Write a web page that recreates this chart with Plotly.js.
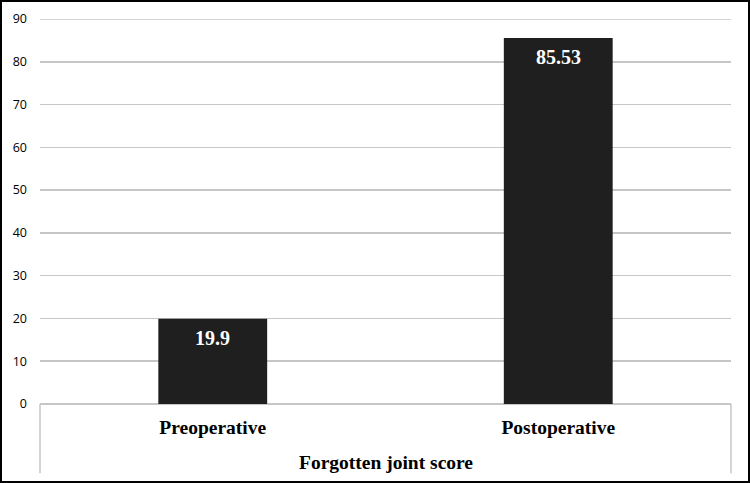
<!DOCTYPE html>
<html>
<head>
<meta charset="utf-8">
<script src="https://cdn.plot.ly/plotly-3.0.1.min.js"></script>
<style>
  html, body { margin: 0; padding: 0; background: #ffffff; }
  #wrap { position: relative; width: 750px; height: 483px; }
  #chart { width: 750px; height: 483px; }
  #frame {
    position: absolute; left: 0; top: 0; width: 750px; height: 483px;
    box-sizing: border-box; border: 2px solid #000000; pointer-events: none;
  }
</style>
</head>
<body>
<div id="wrap">
  <div id="chart"></div>
  <div id="frame"></div>
</div>
<script>
const categories = ["Preoperative", "Postoperative"];
const scores = [19.9, 85.53];
const scoreLabels = ["19.9", "85.53"];
const groupLabel = "Forgotten joint score";
const yTicks = [0, 10, 20, 30, 40, 50, 60, 70, 80, 90];
const yMax = 90;

const serif = "Liberation Serif, Times New Roman, serif";
const gridGray = "#c6c6c6";

const barTrace = {
  type: "bar",
  x: categories,
  y: scores,
  width: 0.315,
  marker: { color: "#1f1f1f", line: { width: 0 } },
  hoverinfo: "skip",
};

const valueLabels = categories.map((cat, i) => ({
  x: cat,
  y: scores[i],
  xref: "x",
  yref: "y",
  yanchor: "top",
  yshift: -6,
  text: scoreLabels[i],
  showarrow: false,
  font: { family: serif, size: 20, color: "#ffffff", weight: "bold" },
}));

// top gridline sits on the range edge, so draw it as a shape
const topGrid = {
  type: "line", xref: "paper", yref: "y", x0: 0, x1: 1, y0: yMax, y1: yMax,
  line: { color: gridGray, width: 1.5 }, layer: "below",
};

// multi-level category box under the axis
const groupBox = [
  { type: "line", xref: "paper", yref: "paper", x0: 0, x1: 0, y0: 0, y1: -0.18,
    line: { color: gridGray, width: 1.5 } },
  { type: "line", xref: "paper", yref: "paper", x0: 1, x1: 1, y0: 0, y1: -0.18,
    line: { color: gridGray, width: 1.5 } },
];

Plotly.newPlot(
  "chart",
  [barTrace],
  {
    width: 750,
    height: 483,
    margin: { l: 40, r: 19, t: 19, b: 79 },
    paper_bgcolor: "#ffffff",
    plot_bgcolor: "#ffffff",
    showlegend: false,
    xaxis: {
      type: "category",
      showgrid: false,
      showline: false,
      zeroline: false,
      ticks: "",
      ticklabelstandoff: 9,
      tickfont: { family: serif, size: 19.5, color: "#000000", weight: "bold" },
      fixedrange: true,
    },
    yaxis: {
      range: [0, yMax],
      tickvals: yTicks,
      showgrid: true,
      gridcolor: gridGray,
      gridwidth: 1.5,
      zeroline: true,
      zerolinecolor: gridGray,
      zerolinewidth: 1.5,
      showline: false,
      ticks: "",
      ticklabelstandoff: 12,
      tickfont: { family: "Open Sans, Liberation Sans, sans-serif", size: 12.5, color: "#000000" },
      fixedrange: true,
    },
    shapes: [topGrid].concat(groupBox),
    annotations: valueLabels.concat([
      {
        x: 0.5,
        y: -0.153,
        xref: "paper",
        yref: "paper",
        yanchor: "middle",
        text: groupLabel,
        showarrow: false,
        font: { family: serif, size: 19.5, color: "#000000", weight: "bold" },
      },
    ]),
  },
  { displayModeBar: false, staticPlot: true }
);
</script>
</body>
</html>
